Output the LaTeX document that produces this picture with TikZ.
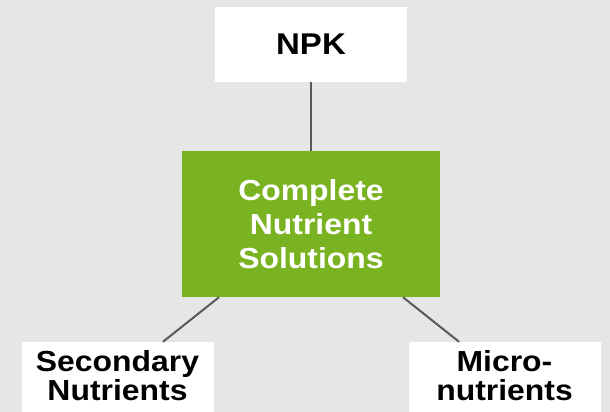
\documentclass[tikz,border=0pt]{standalone}
\usepackage{fontspec}
\setmainfont{Liberation Sans}[FakeStretch=1.1]
\usepackage{xcolor}
\usepackage{tikz}
\usetikzlibrary{positioning}
\definecolor{bggray}{HTML}{E6E6E6}
\definecolor{leafgreen}{HTML}{7AB321}
\definecolor{linkgray}{HTML}{595959}

\begin{document}
\begin{tikzpicture}[
  x=1pt, y=-1pt,
  every node/.style={inner sep=0pt},
  topbox/.style={rectangle, fill=white, minimum width=192pt, minimum height=75pt,
    font=\bfseries\fontsize{30}{34}\selectfont},
  corebox/.style={rectangle, fill=leafgreen, minimum width=258pt, minimum height=146pt,
    text=white, align=center, font=\bfseries\fontsize{29}{34}\selectfont},
  leafbox/.style={rectangle, fill=white, minimum width=192pt, minimum height=72pt},
  leaftext/.style={align=center, font=\bfseries\fontsize{29}{29.5}\selectfont},
  link/.style={draw=linkgray, line width=2pt}
]
  \fill[bggray] (0,0) rectangle (610,412);
  \useasboundingbox (0,0) rectangle (610,412);
  \clip (0,0) rectangle (610,412);

  \node[topbox] (npk) at (311,44.5) {NPK};
  \node[corebox] (core) at (311,224) {Complete\\Nutrient\\Solutions};
  \node[leafbox] (sec) at (117.5,378) {};
  \node[leafbox] (micro) at (504.5,378) {};
  \node[leaftext, below=8pt of sec.north] (sectxt) {Secondary\\Nutrients};
  \node[leaftext, below=8pt of micro.north] (microtxt) {Micro-\\nutrients};

  % links run centre to centre, cut at the box borders
  \draw[link] (npk) -- (core);
  \draw[link] (core) -- (sec);
  \draw[link] (core) -- (micro);
\end{tikzpicture}
\end{document}
